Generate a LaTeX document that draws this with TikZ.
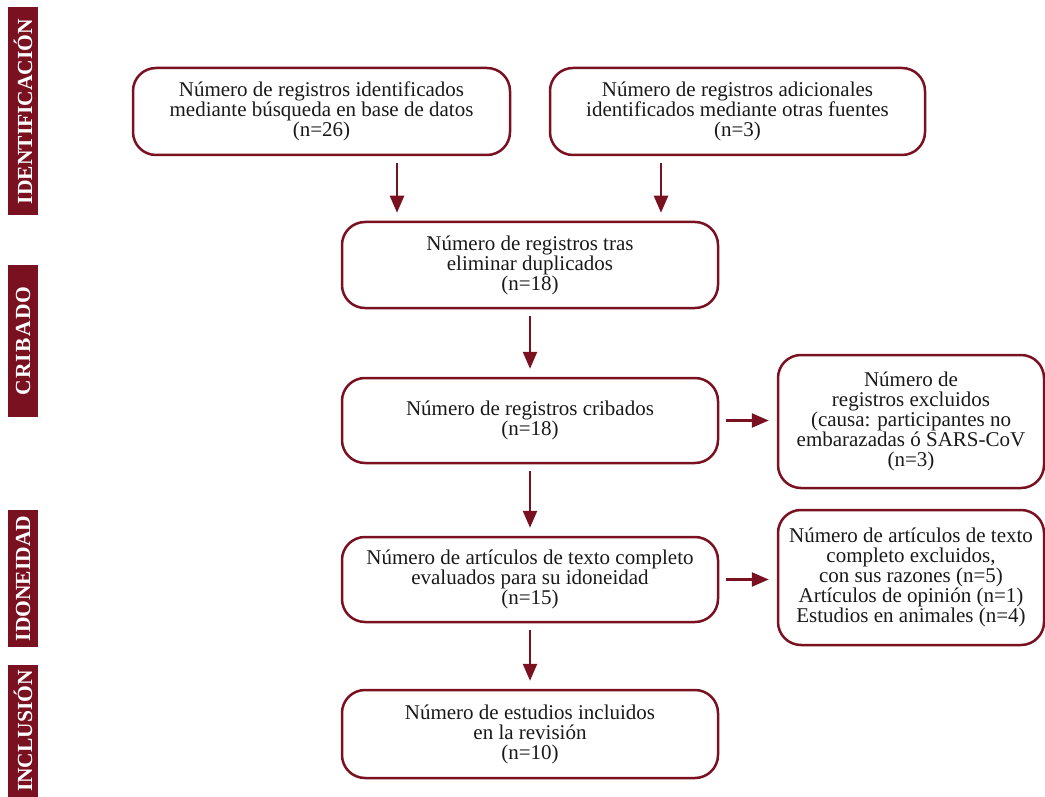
\documentclass[tikz,border=0pt]{standalone}
\usepackage{fontspec}
\setmainfont{Liberation Serif}
\usetikzlibrary{arrows.meta}
\definecolor{vino}{RGB}{122,17,32}
\begin{document}
\begin{tikzpicture}[x=1pt,y=-1pt,
    caja/.style={draw=vino,line width=2.5pt,rounded corners=23pt,align=center,inner sep=0pt,
      text=black!90,font=\fontsize{21}{20}\selectfont},
    fase/.style={fill=vino,rotate=90,minimum height=30pt,inner sep=0pt,text=white,
      font=\fontsize{21.5}{20}\selectfont\bfseries},
    flecha/.style={draw=vino,line width=2.5pt,-{Triangle[length=17pt,width=14pt]},
      shorten <=7pt,shorten >=8pt}]
  \useasboundingbox (0,0) rectangle (1045,797);
  % fases
  \node[fase,minimum width=208pt] (f1) at (23,111.5) {IDENTIFICACIÓN};
  \node[fase,minimum width=152pt] (f2) at (23,341) {\addfontfeature{LetterSpace=6}CRIBADO};
  \node[fase,minimum width=137pt] (f3) at (23,578.5) {IDONEIDAD};
  \node[fase,minimum width=132pt] (f4) at (23,731) {INCLUSIÓN};
  % cajas
  \node[caja,minimum width=377pt,minimum height=87pt] (a) at (321.5,111.5)
    {Número de registros identificados\\mediante búsqueda en base de datos\\(n=26)};
  \node[caja,minimum width=375pt,minimum height=87pt] (b) at (737.5,111.5)
    {Número de registros adicionales\\identificados mediante otras fuentes\\(n=3)};
  \node[caja,minimum width=376pt,minimum height=86pt] (c) at (530,265)
    {Número de registros tras\\eliminar duplicados\\(n=18)};
  \node[caja,minimum width=376pt,minimum height=85pt] (d) at (530,420.5)
    {Número de registros cribados\\(n=18)};
  \node[caja,minimum width=266pt,minimum height=133pt] (e) at (911,421.5)
    {Número de\\registros excluidos\\(causa: participantes no\\embarazadas ó SARS-CoV\\(n=3)};
  \node[caja,minimum width=266pt,minimum height=135pt] (g) at (911,577.5)
    {Número de artículos de texto\\completo excluidos,\\con sus razones (n=5)\\Artículos de opinión (n=1)\\Estudios en animales (n=4)};
  \node[caja,minimum width=376pt,minimum height=85pt] (f) at (530,579.5)
    {Número de artículos de texto completo\\evaluados para su idoneidad\\(n=15)};
  \node[caja,minimum width=376pt,minimum height=88pt] (h) at (530,734)
    {Número de estudios incluidos\\en la revisión\\(n=10)};
  % flechas
  \coordinate (x1) at (397,0); \coordinate (x2) at (661,0);
  \draw[flecha] (a.south -| x1) -- (c.north -| x1);
  \draw[flecha] (b.south -| x2) -- (c.north -| x2);
  \draw[flecha] (c) -- (d); \draw[flecha] (d) -- (e.west |- d);
  \draw[flecha] (d) -- (f); \draw[flecha] (f) -- (g.west |- f);
  \draw[flecha] (f) -- (h);
\end{tikzpicture}
\end{document}
